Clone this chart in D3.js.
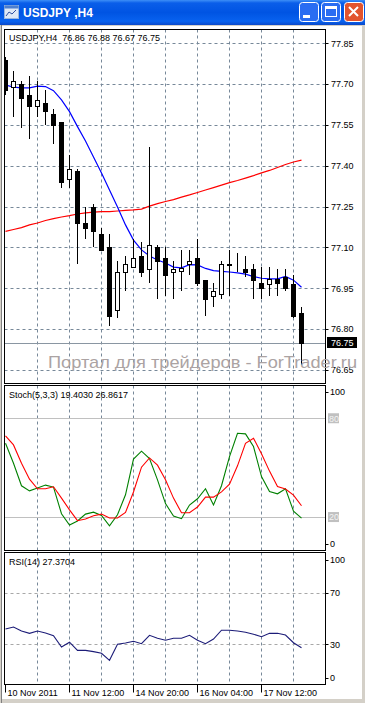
<!DOCTYPE html>
<html><head><meta charset="utf-8">
<script src="https://cdn.jsdelivr.net/npm/d3@7/dist/d3.min.js"></script>
<style>
body{margin:0;background:#ece9d8;}
svg{display:block;}
text{font-family:"Liberation Sans",Arial,sans-serif;}
</style>
</head><body><div id="chart"></div>
<script>
// ---------- DATA ----------
const symbol = "USDJPY";
const timeframe = "H4";
const opens  = [77.79,77.69,77.70,77.66,77.62,77.63,77.59,77.56,77.35,77.38,77.19,77.25,77.15,77.10,76.87,77.01,77.03,77.07,77.02,77.10,77.06,77.01,77.015,77.04,77.06,76.98,76.92,76.93,77.035,77.035,77.02,77.02,76.97,76.965,76.985,76.99,76.965,76.86];
const highs  = [77.80,77.75,77.71,77.73,77.71,77.68,77.61,77.56,77.44,77.39,77.25,77.26,77.17,77.15,77.05,77.07,77.13,77.12,77.47,77.11,77.10,77.05,77.09,77.09,77.13,76.98,76.97,77.05,77.09,77.08,77.07,77.04,77.03,77.03,77.02,77.02,77.00,76.88];
const lows   = [77.66,77.58,77.54,77.50,77.58,77.55,77.48,77.32,77.32,77.04,77.13,77.10,77.09,76.81,76.84,76.94,77.03,76.99,76.97,76.91,76.92,76.91,76.94,77.00,76.96,76.85,76.88,76.91,76.92,77.01,76.99,76.91,76.91,76.92,76.92,76.94,76.84,76.67];
const closes = [77.68,77.71,77.65,77.62,77.64,77.60,77.55,77.34,77.39,77.19,77.17,77.16,77.09,76.85,77.01,77.04,77.06,77.01,77.11,77.05,77.00,77.02,77.025,77.05,76.97,76.91,76.94,77.04,77.04,77.035,77.01,76.98,76.95,76.985,76.97,76.95,76.85,76.75];
const maFast = [77.697,77.689,77.686,77.686,77.693,77.691,77.676,77.642,77.599,77.544,77.491,77.432,77.374,77.311,77.249,77.183,77.127,77.091,77.069,77.054,77.043,77.028,77.025,77.037,77.036,77.023,77.015,77.012,77.010,77.007,77.002,76.993,76.987,76.985,76.985,76.994,76.980,76.954];
const maSlow = [77.159,77.166,77.173,77.183,77.190,77.199,77.206,77.212,77.217,77.223,77.227,77.230,77.232,77.232,77.234,77.236,77.238,77.241,77.252,77.261,77.269,77.276,77.285,77.293,77.302,77.311,77.320,77.329,77.338,77.346,77.355,77.364,77.374,77.383,77.394,77.405,77.414,77.421];
const stochMain   = [64.8,52.7,39.0,35.9,37.6,39.4,38.2,22.0,15.2,17.6,21.8,23.0,21.0,14.7,21.4,33.5,55.2,60.0,55.5,42.6,28.2,20.6,19.0,27.3,31.1,37.2,27.3,39.0,56.7,70.9,70.5,62.8,44.6,35.5,34.1,37.2,23.6,19.4030];
const stochSignal = [69.3,63.8,52.7,43.0,37.2,37.2,38.4,31.5,24.4,17.8,18.8,20.8,21.8,19.4,19.4,22.8,35.2,50.3,55.9,51.5,42.6,31.5,22.6,22.6,26.1,32.1,32.1,35.3,40.0,51.1,64.8,67.9,58.4,47.9,38.5,37.0,33.3,26.8617];
const rsiValues   = [41.9,43.4,40.3,38.5,40.3,38.8,36.7,27.9,31.6,25.3,25.3,24.3,23.0,17.6,30.0,31.0,32.3,30.5,37.0,34.7,33.1,34.7,34.7,37.0,33.1,30.5,34.1,40.9,40.9,40.3,39.3,37.8,35.9,38.5,38.5,37.2,31.2,27.3704];
const priceTicks = [77.85,77.70,77.55,77.40,77.25,77.10,76.95,76.80,76.65];
const stochTicks = [100,80,20,0];
const stochLevels = [80,20];
const rsiTicks = [100,70,30,0];
const rsiLevels = [70,30];
const dateLabels = ["10 Nov 2011","11 Nov 12:00","14 Nov 20:00","16 Nov 04:00","17 Nov 12:00"];
const dateLabelIdx = [0,8,16,24,32];
const stochName = "Stoch(5,3,3)";
const rsiName = "RSI(14)";
const watermark = "Портал для трейдеров - ForTrader.ru";

// ---------- LAYOUT ----------
const W = 365, H = 703;
const L = 4.5, R = 325.5;
const mainP = {y0: 29.5, y1: 383.5};
const stochP = {y0: 385.5, y1: 550.5};
const rsiP = {y0: 552.5, y1: 684.5};
const n = closes.length;

const svg = d3.select("#chart").append("svg").attr("width", W).attr("height", H);
const defs = svg.append("defs");

// window chrome
svg.append("rect").attr("width", W).attr("height", H).attr("fill", "#d4d0c8");
svg.append("rect").attr("x", 2).attr("y", 26).attr("width", 360).attr("height", 673).attr("fill", "#fff");
svg.append("line").attr("x1",1.5).attr("x2",1.5).attr("y1",25).attr("y2",H).attr("stroke","#808080");

const tg = defs.append("linearGradient").attr("id","tb").attr("x1",0).attr("x2",0).attr("y1",0).attr("y2",1);
[[0,"#3d8ff7"],[0.12,"#0a5ee9"],[0.5,"#0054e3"],[0.85,"#0862ef"],[1,"#0a48c9"]].forEach(s=>tg.append("stop").attr("offset",s[0]).attr("stop-color",s[1]));
svg.append("rect").attr("x",0).attr("y",0).attr("width",W).attr("height",25).attr("fill","url(#tb)");
// icon
svg.append("rect").attr("x",4.5).attr("y",5.5).attr("width",14).attr("height",13).attr("fill","#dfe9f7").attr("stroke","#9bb7de");
svg.append("rect").attr("x",4.5).attr("y",5.5).attr("width",14).attr("height",3).attr("fill","#4d7fd0");
svg.append("path").attr("d","M6,16 L9,12 L12,14 L16,10").attr("fill","none").attr("stroke","#3050a0");
svg.append("text").attr("x",23).attr("y",17).attr("fill","#fff").attr("font-weight","bold").attr("font-size",12)
  .text(symbol + " ," + timeframe);
// buttons
function btn(x, fill){
  svg.append("rect").attr("x",x+0.5).attr("y",2.5).attr("width",19).attr("height",19).attr("rx",3)
    .attr("fill",fill).attr("stroke","#fff");
}
btn(299,"#2a6df2"); btn(321,"#2a6df2"); btn(344,"#e2542e");
svg.append("rect").attr("x",303).attr("y",15).attr("width",7).attr("height",3).attr("fill","#fff");
svg.append("rect").attr("x",325.5).attr("y",6.5).attr("width",11).attr("height",10).attr("fill","none").attr("stroke","#fff");
svg.append("rect").attr("x",325).attr("y",6).attr("width",12).attr("height",3).attr("fill","#fff");
svg.append("path").attr("d","M349,7 L358,16 M358,7 L349,16").attr("stroke","#fff").attr("stroke-width",2);

// ---------- SCALES ----------
const xs = d3.scaleLinear().domain([0, n-1]).range([5.5, 301.5]);
const yP = d3.scaleLinear().domain([76.65, 77.85]).range([370, 43.3]);
const yS = d3.scaleLinear().domain([0, 100]).range([550, 385.3]);
const yR = d3.scaleLinear().domain([0, 100]).range([683, 554]);

const gridColor = "#778899";
const panels = [["main", mainP], ["stoch", stochP], ["rsi", rsiP]];
panels.forEach(([id, p]) => {
  defs.append("clipPath").attr("id","clip-"+id).append("rect")
    .attr("x", L).attr("y", p.y0).attr("width", R-L).attr("height", p.y1-p.y0);
});
const vIdx = d3.range(4, n, 4);

function panelBase(id, p){
  const g = svg.append("g").attr("clip-path","url(#clip-"+id+")");
  g.selectAll(".vg").data(vIdx).join("line")
    .attr("x1", d=>xs(d)).attr("x2", d=>xs(d)).attr("y1", p.y0).attr("y2", p.y1)
    .attr("stroke", gridColor).attr("stroke-dasharray","3,3");
  return g;
}

// ---------- MAIN PANEL ----------
const gm = panelBase("main", mainP);
gm.selectAll(".hg").data(priceTicks).join("line")
  .attr("x1", L).attr("x2", R).attr("y1", d=>Math.round(yP(d))+0.5).attr("y2", d=>Math.round(yP(d))+0.5)
  .attr("stroke", gridColor).attr("stroke-dasharray","3,3");
// bid line
const lastC = closes[n-1];
gm.append("line").attr("x1",L).attr("x2",R).attr("y1",Math.round(yP(lastC))+0.5).attr("y2",Math.round(yP(lastC))+0.5)
  .attr("stroke","#8a96a2");
// MAs
gm.append("path").datum(maSlow).attr("fill","none").attr("stroke","#ff0000").attr("stroke-width",1.2)
  .attr("d", d3.line().x((d,i)=>xs(i)).y(d=>yP(d)));
gm.append("path").datum(maFast).attr("fill","none").attr("stroke","#0000ff").attr("stroke-width",1.2)
  .attr("d", d3.line().x((d,i)=>xs(i)).y(d=>yP(d)));
// candles
const cg = gm.append("g").attr("shape-rendering","crispEdges");
const idx = d3.range(n);
cg.selectAll(".wick").data(idx).join("line")
  .attr("x1", i=>xs(i)).attr("x2", i=>xs(i))
  .attr("y1", i=>Math.round(yP(highs[i]))).attr("y2", i=>Math.round(yP(lows[i])))
  .attr("stroke","#000");
cg.selectAll(".body").data(idx).join("rect")
  .attr("x", i=>xs(i)-2).attr("width", 4)
  .attr("y", i=>Math.round(yP(Math.max(opens[i],closes[i])))+0.5)
  .attr("height", i=>Math.max(0, Math.round(yP(Math.min(opens[i],closes[i]))) - Math.round(yP(Math.max(opens[i],closes[i])))))
  .attr("fill", i=> closes[i] >= opens[i] ? "#fff" : "#000")
  .attr("stroke","#000");
// label
svg.append("text").attr("x",9).attr("y",40.5).attr("font-size",9).attr("xml:space","preserve").attr("fill","#000")
  .text(symbol + "," + timeframe + "  " + [opens[n-1],highs[n-1],lows[n-1],closes[n-1]].map(v=>v.toFixed(2)).join(" "));

// price axis
svg.selectAll(".pt").data(priceTicks).join("line")
  .attr("x1",R).attr("x2",R+3).attr("y1",d=>Math.round(yP(d))+0.5).attr("y2",d=>Math.round(yP(d))+0.5).attr("stroke","#000");
svg.selectAll(".pl").data(priceTicks).join("text")
  .attr("x",331).attr("y",d=>yP(d)+3.3).attr("font-size",9).attr("fill","#000").text(d=>d.toFixed(2));
svg.append("rect").attr("x",327).attr("y",Math.round(yP(lastC))-6).attr("width",30).attr("height",11).attr("fill","#000");
svg.append("text").attr("x",331).attr("y",yP(lastC)+3).attr("font-size",9).attr("fill","#fff").text(lastC.toFixed(2));

// ---------- STOCH PANEL ----------
const gs = panelBase("stoch", stochP);
gs.selectAll(".lv").data(stochLevels).join("line")
  .attr("x1",L).attr("x2",R).attr("y1",d=>Math.round(yS(d))+0.5).attr("y2",d=>Math.round(yS(d))+0.5).attr("stroke","#c0c0c0");
gs.append("path").datum(stochMain).attr("fill","none").attr("stroke","#008000").attr("stroke-width",1.1)
  .attr("d", d3.line().x((d,i)=>xs(i)).y(d=>yS(d)));
gs.append("path").datum(stochSignal).attr("fill","none").attr("stroke","#ff0000").attr("stroke-width",1.1)
  .attr("d", d3.line().x((d,i)=>xs(i)).y(d=>yS(d)));
svg.append("text").attr("x",9).attr("y",398).attr("font-size",9).attr("fill","#000")
  .text(stochName + " " + stochMain[n-1].toFixed(4) + " " + stochSignal[n-1].toFixed(4));
stochTicks.forEach(t=>{
  const yy = Math.min(Math.max(yS(t), stochP.y0+6), stochP.y1-7);
  if (stochLevels.includes(t)) {
    svg.append("rect").attr("x",328).attr("y",yy-5).attr("width",11).attr("height",10).attr("fill","#c0c0c0");
    svg.append("text").attr("x",329).attr("y",yy+3.3).attr("font-size",9).attr("fill","#f4f4f4").text(t);
  } else {
    svg.append("line").attr("x1",R).attr("x2",R+3).attr("y1",Math.round(yy)+0.5).attr("y2",Math.round(yy)+0.5).attr("stroke","#000");
    svg.append("text").attr("x",330).attr("y",yy+3.3).attr("font-size",9).attr("fill","#000").text(t);
  }
});

// ---------- RSI PANEL ----------
const gr = panelBase("rsi", rsiP);
gr.selectAll(".lv").data(rsiLevels).join("line")
  .attr("x1",L).attr("x2",R).attr("y1",d=>Math.round(yR(d))+0.5).attr("y2",d=>Math.round(yR(d))+0.5)
  .attr("stroke","#a8a8a8").attr("stroke-dasharray","3,3");
gr.append("path").datum(rsiValues).attr("fill","none").attr("stroke","#1c1c78").attr("stroke-width",1.1)
  .attr("d", d3.line().x((d,i)=>xs(i)).y(d=>yR(d)));
svg.append("text").attr("x",9).attr("y",565).attr("font-size",9).attr("fill","#000")
  .text(rsiName + " " + rsiValues[n-1].toFixed(4));
rsiTicks.forEach(t=>{
  const yy = Math.min(Math.max(yR(t), rsiP.y0+7), rsiP.y1-7);
  svg.append("line").attr("x1",R).attr("x2",R+3).attr("y1",Math.round(yy)+0.5).attr("y2",Math.round(yy)+0.5).attr("stroke","#000");
  svg.append("text").attr("x",330).attr("y",yy+3.3).attr("font-size",9).attr("fill","#000").text(t);
});

// panel borders
panels.forEach(([id,p])=>{
  svg.append("rect").attr("x",L).attr("y",p.y0).attr("width",R-L).attr("height",p.y1-p.y0)
    .attr("fill","none").attr("stroke","#000");
});

// date axis
dateLabelIdx.forEach((ix,k)=>{
  const x = Math.round(xs(ix)) - 0.5;
  svg.append("line").attr("x1",x).attr("x2",x).attr("y1",rsiP.y1).attr("y2",rsiP.y1+8).attr("stroke","#000");
  svg.append("text").attr("x",x+2).attr("y",696).attr("font-size",9).attr("fill","#000").text(dateLabels[k]);
});

// watermark
svg.append("text").attr("x",48).attr("y",367.5).attr("font-size",17).attr("fill","#aba3a3")
  .attr("textLength",309).attr("lengthAdjust","spacingAndGlyphs").text(watermark);
</script>
</body></html>
